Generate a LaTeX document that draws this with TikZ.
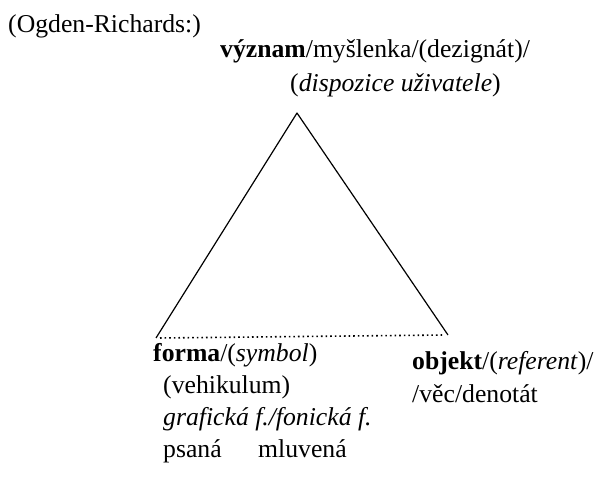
\documentclass[tikz,border=0pt]{standalone}
\usepackage{fontspec}
\setmainfont{Liberation Serif}
\begin{document}
\begin{tikzpicture}[x=1pt,y=1pt,
  lbl/.style={anchor=base west,inner sep=0pt,font=\fontsize{25.7}{30}\selectfont},
  side/.style={line width=1.2pt,line join=round},
  dots/.style={line width=1.6pt,dash pattern=on 1.6pt off 3pt}]
\useasboundingbox (0,0) rectangle (598,-484);
\node[lbl] (title) at (8,-33) {(Ogden-Richards:)};
\node[lbl] (vyz1) at (220,-58) {\textbf{význam}/myšlenka/(dezignát)/};
\node[lbl] (vyz2) at (290,-92) {(\textit{dispozice uživatele})};
\coordinate (apex) at (297,-113);
\coordinate (bl) at (156,-338);
\coordinate (br) at (448,-335);
\draw[side] (bl) -- (apex) -- (br);
\draw[dots] ([xshift=4pt]bl) -- ([xshift=-4pt]br);
\node[lbl] (f1) at (153,-362) {\textbf{forma}/(\textit{symbol})};
\node[lbl] (f2) at (163,-393) {(vehikulum)};
\node[lbl] (f3) at (163,-425) {\textit{grafická f./fonická f.}};
\node[lbl] (f4) at (163,-457) {psaná};
\node[lbl] (f5) at (258,-457) {mluvená};
\node[lbl] (o1) at (412,-370) {\textbf{objekt}/(\textit{referent})/};
\node[lbl] (o2) at (412,-402) {/věc/denotát};
\end{tikzpicture}
\end{document}
